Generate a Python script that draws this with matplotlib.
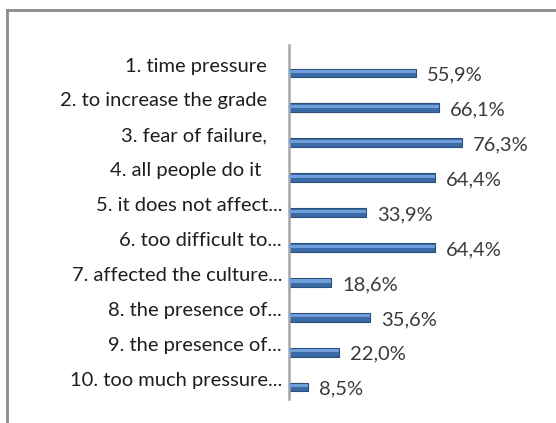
import numpy as np
import matplotlib
matplotlib.use("Agg")
import matplotlib.pyplot as plt
from matplotlib.lines import Line2D

categories = [
    "1. time pressure   ",
    "2. to increase the grade   ",
    "3. fear of failure,   ",
    "4. all people do it    ",
    "5. it does not affect...",
    "6. too difficult to...",
    "7. affected the culture...",
    "8. the presence of...",
    "9. the presence of...",
    "10. too much pressure...",
]
values = [55.9, 66.1, 76.3, 64.4, 33.9, 64.4, 18.6, 35.6, 22.0, 8.5]
value_labels = ["55,9%", "66,1%", "76,3%", "64,4%", "33,9%",
                "64,4%", "18,6%", "35,6%", "22,0%", "8,5%"]

W, H = 556, 423
fig = plt.figure(figsize=(W / 100, H / 100), dpi=100)
fig.patch.set_facecolor("white")

# plot area in pixels: axis line x=289, 100% at ~516, y from 45 to 399
ax = fig.add_axes([289 / W, 1 - 399 / H, 227 / W, (399 - 45) / H])
ax.set_xlim(0, 100)
ax.set_ylim(9.34, -0.80)

pos = np.arange(len(values))
# 3D-ish bar: dark base, lighter top stripe
ax.barh(pos, values, height=0.25, color="#3a6aa5", edgecolor="#2b4f7c",
        linewidth=0.8, zorder=2)
ax.barh(pos - 0.04, values, height=0.09, color="#6f9fdb", linewidth=0,
        zorder=3)

for i, (v, lab) in enumerate(zip(values, value_labels)):
    ax.annotate(lab, (v, i + 0.06), xytext=(11, 0), textcoords="offset pixels",
                ha="left", va="center", fontsize=14.5, color="#3a3a3a",
                family="Lato")

ax.set_yticks(pos - 0.24)
ax.set_yticklabels(categories, fontsize=14.5, color="#1e1e1e", family="Lato")
ax.tick_params(axis="y", length=0, pad=5)
ax.set_xticks([])
for s in ["top", "right", "bottom"]:
    ax.spines[s].set_visible(False)
ax.spines["left"].set_color("#a6a6a6")
ax.spines["left"].set_linewidth(1.8)

# outer chart border (top and left visible, rest runs off the image)
fig.add_artist(Line2D([7 / W, 1.0], [1 - 10 / H, 1 - 10 / H],
                      transform=fig.transFigure, color="#8a8a8a", lw=2))
fig.add_artist(Line2D([7 / W, 7 / W], [1 - 10 / H, 0.0],
                      transform=fig.transFigure, color="#8a8a8a", lw=2))

fig.savefig("out.png", dpi=100)
